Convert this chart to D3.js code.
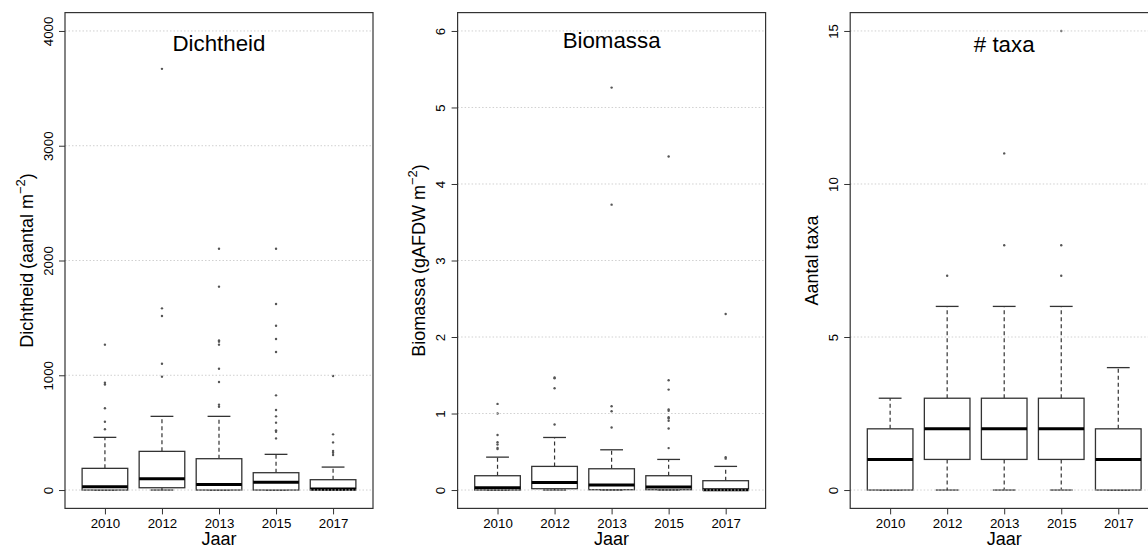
<!DOCTYPE html>
<html>
<head>
<meta charset="utf-8">
<script src="https://cdn.jsdelivr.net/npm/d3@7"></script>
<style>
  body { margin: 0; background: #fff; }
  svg text { font-family: Arial, "Liberation Sans", sans-serif; fill: #000; }
</style>
</head>
<body>
<svg id="chart" width="1148" height="549"></svg>
<script>
// years on the x axis
var years = ["2010", "2012", "2013", "2015", "2017"];

// box stats per year: [lower whisker, Q1, median, Q3, upper whisker]
var dichtheidStats = [[0, 0, 29, 189, 459], [0, 20, 99, 337, 642], [0, 0, 49, 273, 642], [0, 0, 67, 151, 311], [0, 0, 9, 90, 200]];
var dichtheidOutliers = [
  [1267, 935, 920, 712, 595, 529],
  [3670, 1583, 1516, 1101, 988],
  [2103, 1772, 1304, 1293, 1267, 1057, 941, 744, 726],
  [2103, 1621, 1432, 1316, 1203, 825, 697, 642, 587, 520, 508, 450],
  [993, 485, 415, 340, 325, 305]
];
var dichtheidTicks = [0, 1000, 2000, 3000, 4000];

var biomassaStats = [[0, 0, 0.03, 0.187, 0.43], [0, 0.017, 0.10, 0.309, 0.687], [0, 0.004, 0.065, 0.278, 0.526], [0, 0.004, 0.039, 0.187, 0.40], [0, 0, 0.004, 0.122, 0.309]];
var biomassaOutliers = [
  [1.126, 1.0, 0.72, 0.626, 0.596, 0.55, 0.535],
  [1.47, 1.46, 1.33, 0.857],
  [5.26, 3.73, 1.096, 1.03, 0.817],
  [4.36, 1.435, 1.313, 1.052, 1.035, 0.952, 0.935, 0.904, 0.804, 0.548],
  [2.30, 0.43, 0.41]
];
var biomassaTicks = [0, 1, 2, 3, 4, 5, 6];

var taxaStats = [[0, 0, 1, 2, 3], [0, 1, 2, 3, 6], [0, 1, 2, 3, 6], [0, 1, 2, 3, 6], [0, 0, 1, 2, 4]];
var taxaOutliers = [[], [7], [11, 8], [15, 8, 7], []];
var taxaTicks = [0, 5, 10, 15];

var titles = ["Dichtheid", "Biomassa", "# taxa"];

// layout
var svg = d3.select("#chart");
var plotW = 308, plotTop = 12.6, plotBottom = 508.4;
var panels = [
  {left: 65,    stats: dichtheidStats, outliers: dichtheidOutliers, ticks: dichtheidTicks, title: titles[0], titleY: 51.5, ylab: "dicht"},
  {left: 457.6, stats: biomassaStats,  outliers: biomassaOutliers,  ticks: biomassaTicks,  title: titles[1], titleY: 48.5, ylab: "bio"},
  {left: 850.2, stats: taxaStats,      outliers: taxaOutliers,      ticks: taxaTicks,      title: titles[2], titleY: 51.8, ylab: "taxa"}
];

var x = d3.scalePoint().domain(years).range([0, plotW]).padding(0.7);
var boxW = x.step() * 0.8;

panels.forEach(function(p) {
  var ymax = d3.max(p.ticks);
  var y = d3.scaleLinear().domain([-0.04 * ymax, 1.04 * ymax]).range([plotBottom - plotTop, 0]);
  var g = svg.append("g").attr("transform", "translate(" + p.left + "," + plotTop + ")");
  var h = plotBottom - plotTop;

  // boxes
  var b = g.selectAll("g.box").data(p.stats).enter().append("g")
    .attr("transform", function(d, i) { return "translate(" + x(years[i]) + ",0)"; });

  b.append("line") // upper whisker
    .attr("x1", 0).attr("x2", 0)
    .attr("y1", function(d) { return y(d[3]); }).attr("y2", function(d) { return y(d[4]); })
    .attr("stroke", "#333").attr("stroke-width", 1.2).attr("stroke-dasharray", "4,3");
  b.append("line") // lower whisker
    .attr("x1", 0).attr("x2", 0)
    .attr("y1", function(d) { return y(d[1]); }).attr("y2", function(d) { return y(d[0]); })
    .attr("stroke", "#333").attr("stroke-width", 1.2).attr("stroke-dasharray", "4,3");
  b.append("line").attr("x1", -boxW / 4).attr("x2", boxW / 4)
    .attr("y1", function(d) { return y(d[4]); }).attr("y2", function(d) { return y(d[4]); })
    .attr("stroke", "#333").attr("stroke-width", 1.3);
  b.append("line").attr("x1", -boxW / 4).attr("x2", boxW / 4)
    .attr("y1", function(d) { return y(d[0]); }).attr("y2", function(d) { return y(d[0]); })
    .attr("stroke", "#333").attr("stroke-width", 1.3);
  b.append("rect")
    .attr("x", -boxW / 2).attr("width", boxW)
    .attr("y", function(d) { return y(d[3]); })
    .attr("height", function(d) { return y(d[1]) - y(d[3]); })
    .attr("fill", "#fff").attr("stroke", "#333").attr("stroke-width", 1.3);
  b.append("line").attr("x1", -boxW / 2).attr("x2", boxW / 2)
    .attr("y1", function(d) { return y(d[2]); }).attr("y2", function(d) { return y(d[2]); })
    .attr("stroke", "#000").attr("stroke-width", 3);

  // outliers
  p.outliers.forEach(function(list, i) {
    g.selectAll(null).data(list).enter().append("circle")
      .attr("cx", x(years[i])).attr("cy", function(v) { return y(v); })
      .attr("r", 1.2).attr("fill", "#555");
  });

  // grid (drawn over the boxes)
  g.selectAll("line.grid").data(p.ticks).enter().append("line")
    .attr("x1", 0).attr("x2", plotW)
    .attr("y1", function(v) { return y(v); }).attr("y2", function(v) { return y(v); })
    .attr("stroke", "#d0d0d0").attr("stroke-width", 1).attr("stroke-dasharray", "1.5,2");

  // frame
  g.append("rect").attr("width", plotW).attr("height", h)
    .attr("fill", "none").attr("stroke", "#333").attr("stroke-width", 1.2);

  // y axis
  var ya = g.append("g").call(d3.axisLeft(y).tickValues(p.ticks).tickSize(6).tickSizeOuter(0).tickPadding(0).tickFormat(d3.format("d")));
  ya.select(".domain").remove();
  ya.selectAll(".tick line").attr("stroke", "#333");
  ya.selectAll(".tick text")
    .attr("font-size", 13.3).attr("fill", "#222")
    .attr("text-anchor", "middle").attr("x", null).attr("dy", null)
    .attr("transform", "translate(-12.5,0) rotate(-90)");

  // x axis
  var xa = g.append("g").attr("transform", "translate(0," + h + ")")
    .call(d3.axisBottom(x).tickSize(6).tickSizeOuter(0).tickPadding(4.3));
  xa.select(".domain").remove();
  xa.selectAll(".tick line").attr("stroke", "#333");
  xa.selectAll(".tick text").attr("font-size", 13.3).attr("fill", "#222");

  // title
  g.append("text").attr("x", plotW / 2).attr("y", p.titleY - plotTop)
    .attr("text-anchor", "middle").attr("font-size", 22.3).text(p.title);

  // x label
  g.append("text").attr("x", plotW / 2).attr("y", 545 - plotTop)
    .attr("text-anchor", "middle").attr("font-size", 18).text("Jaar");

  // y label
  var yl = g.append("text").attr("text-anchor", "middle").attr("font-size", 18)
    .attr("transform", "translate(-32.5," + (h / 2) + ") rotate(-90)");
  if (p.ylab === "dicht") {
    yl.append("tspan").text("Dichtheid\u2009(aantal m");
    yl.append("tspan").attr("font-size", 13).attr("dy", -8).text("\u22122");
    yl.append("tspan").attr("dy", 8).text(")");
  } else if (p.ylab === "bio") {
    yl.append("tspan").text("Biomassa\u2009(gAFDW m");
    yl.append("tspan").attr("font-size", 13).attr("dy", -8).text("\u22122");
    yl.append("tspan").attr("dy", 8).text(")");
  } else {
    yl.text("Aantal taxa");
  }
});
</script>
</body>
</html>
